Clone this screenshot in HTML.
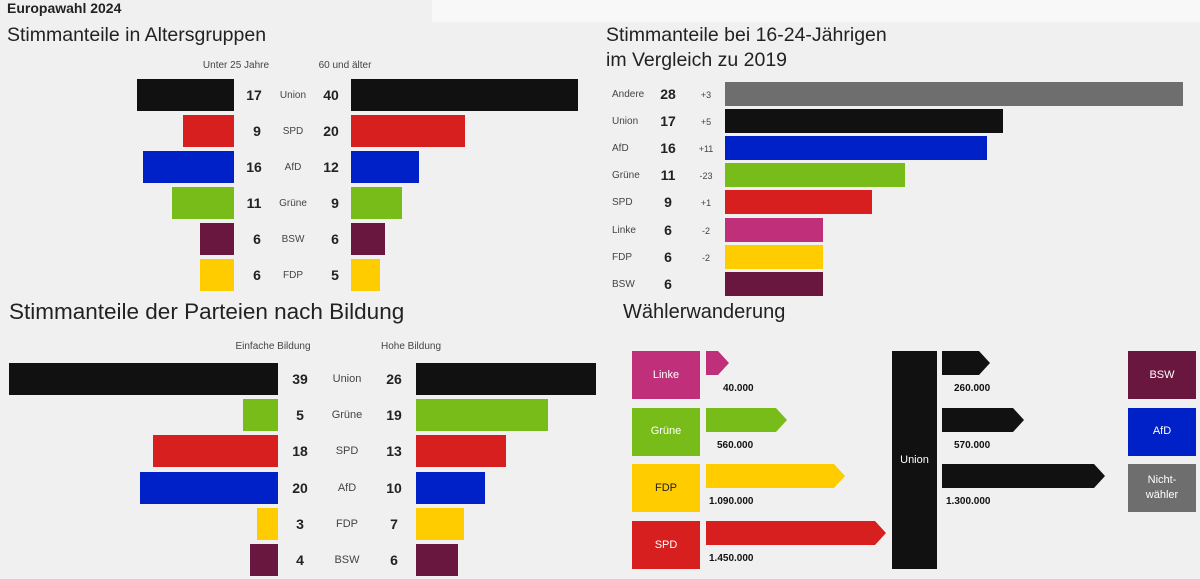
<!DOCTYPE html><html><head><meta charset="utf-8"><style>
body{margin:0;width:1200px;height:579px;background:#f0f0f0;position:relative;overflow:hidden;font-family:"Liberation Sans","DejaVu Sans",sans-serif;color:#222}
div{position:absolute}
.b{position:absolute}
.t{font-size:10px;color:#444;text-align:center;width:60px;margin-left:-30px}
.n{font-size:14px;font-weight:bold;text-align:center;width:40px;margin-left:-20px;color:#222}
.h{font-size:10px;color:#444;text-align:center;width:120px;margin-left:-60px}
.box{color:#fff;font-size:11px;display:flex;align-items:center;justify-content:center;text-align:center;line-height:15px}
.v{font-size:10px;font-weight:bold;color:#111}
</style></head><body>
<div style="left:432px;top:0;width:768px;height:22px;background:#f8f8f8"></div>
<div style="left:7px;top:0;font-size:14px;font-weight:bold">Europawahl 2024</div>
<div style="left:7px;top:24px;font-size:19.5px;color:#222">Stimmanteile in Altersgruppen</div>
<div class="h" style="left:236px;top:60px">Unter 25 Jahre</div>
<div class="h" style="left:345px;top:60px">60 und älter</div>
<div class="b" style="left:137px;top:79px;width:97px;height:32px;background:#111"></div><div class="b" style="left:351px;top:79px;width:227px;height:32px;background:#111"></div>
<div class="n" style="left:254px;top:87px">17</div><div class="t" style="left:293px;top:90px">Union</div><div class="n" style="left:331px;top:87px">40</div>
<div class="b" style="left:183px;top:115px;width:51px;height:32px;background:#d71f1f"></div><div class="b" style="left:351px;top:115px;width:114px;height:32px;background:#d71f1f"></div>
<div class="n" style="left:257px;top:123px">9</div><div class="t" style="left:293px;top:126px">SPD</div><div class="n" style="left:331px;top:123px">20</div>
<div class="b" style="left:143px;top:151px;width:91px;height:32px;background:#0020c8"></div><div class="b" style="left:351px;top:151px;width:68px;height:32px;background:#0020c8"></div>
<div class="n" style="left:254px;top:159px">16</div><div class="t" style="left:293px;top:162px">AfD</div><div class="n" style="left:331px;top:159px">12</div>
<div class="b" style="left:172px;top:187px;width:62px;height:32px;background:#78bc1a"></div><div class="b" style="left:351px;top:187px;width:51px;height:32px;background:#78bc1a"></div>
<div class="n" style="left:254px;top:195px">11</div><div class="t" style="left:293px;top:198px">Grüne</div><div class="n" style="left:335px;top:195px">9</div>
<div class="b" style="left:200px;top:223px;width:34px;height:32px;background:#6a173f"></div><div class="b" style="left:351px;top:223px;width:34px;height:32px;background:#6a173f"></div>
<div class="n" style="left:257px;top:231px">6</div><div class="t" style="left:293px;top:234px">BSW</div><div class="n" style="left:335px;top:231px">6</div>
<div class="b" style="left:200px;top:259px;width:34px;height:32px;background:#ffcc00"></div><div class="b" style="left:351px;top:259px;width:29px;height:32px;background:#ffcc00"></div>
<div class="n" style="left:257px;top:267px">6</div><div class="t" style="left:293px;top:270px">FDP</div><div class="n" style="left:335px;top:267px">5</div>
<div style="left:606px;top:23px;font-size:19.5px;line-height:25px">Stimmanteile bei 16-24-Jährigen<br>im Vergleich zu 2019</div>
<div style="left:9px;top:299px;font-size:22.5px">Stimmanteile der Parteien nach Bildung</div>
<div class="h" style="left:273px;top:341px">Einfache Bildung</div>
<div class="h" style="left:411px;top:341px">Hohe Bildung</div>
<div style="left:623px;top:301px;font-size:20px">Wählerwanderung</div>
<script>
function a(h){document.body.insertAdjacentHTML('beforeend',h)}
var tr=[["Andere",28,"+3",1183,"#6e6e6e"],["Union",17,"+5",1003,"#111"],["AfD",16,"+11",987,"#0020c8"],["Grüne",11,"-23",905,"#78bc1a"],["SPD",9,"+1",872,"#d71f1f"],["Linke",6,"-2",823,"#c0307a"],["FDP",6,"-2",823,"#ffcc00"],["BSW",6,"",823,"#6a173f"]];
tr.forEach(function(r,i){var y=82+i*27.1;
a('<div class="b" style="left:725px;top:'+y+'px;width:'+(r[3]-725)+'px;height:24px;background:'+r[4]+'"></div>');
a('<div style="left:612px;top:'+(y+7)+'px;font-size:10px;color:#444">'+r[0]+'</div>');
a('<div class="n" style="left:668px;top:'+(y+4)+'px">'+r[1]+'</div>');
a('<div style="left:692px;top:'+(y+8)+'px;width:28px;text-align:center;font-size:9px;color:#444">'+r[2]+'</div>');});
var bl=[["Union",39,26,9,596,"#111"],["Grüne",5,19,243,548,"#78bc1a"],["SPD",18,13,153,506,"#d71f1f"],["AfD",20,10,140,485,"#0020c8"],["FDP",3,7,257,464,"#ffcc00"],["BSW",4,6,250,458,"#6a173f"]];
bl.forEach(function(r,i){var y=363+i*36.2;
a('<div class="b" style="left:'+r[3]+'px;top:'+y+'px;width:'+(278-r[3])+'px;height:32px;background:'+r[5]+'"></div>');
a('<div class="b" style="left:416px;top:'+y+'px;width:'+(r[4]-416)+'px;height:32px;background:'+r[5]+'"></div>');
a('<div class="n" style="left:300px;top:'+(y+8)+'px">'+r[1]+'</div>');
a('<div class="t" style="left:347px;top:'+(y+10)+'px;font-size:11px">'+r[0]+'</div>');
a('<div class="n" style="left:394px;top:'+(y+8)+'px">'+r[2]+'</div>');});
function arrow(x1,x2,y,c){var w=x2-x1;a('<svg style="position:absolute;left:'+x1+'px;top:'+y+'px" width="'+w+'" height="24"><polygon points="0,0 '+(w-11)+',0 '+w+',12 '+(w-11)+',24 0,24" fill="'+c+'"/></svg>');}
var L=[["Linke","#c0307a",729,"40.000",723],["Grüne","#78bc1a",787,"560.000",717],["FDP","#ffcc00",845,"1.090.000",709],["SPD","#d71f1f",886,"1.450.000",709]];
L.forEach(function(r,i){var y=351+i*56.7;
a('<div class="box" style="left:632px;top:'+y+'px;width:68px;height:48px;background:'+r[1]+';color:'+(r[0]=="FDP"?"#222":"#fff")+'">'+r[0]+'</div>');
arrow(706,r[2],y,r[1]);
a('<div class="v" style="left:'+r[4]+'px;top:'+(y+32)+'px">'+r[3]+'</div>');});
a('<div class="box" style="left:892px;top:351px;width:45px;height:218px;background:#111">Union</div>');
var R=[[990,"260.000",954,"BSW","#6a173f"],[1024,"570.000",954,"AfD","#0020c8"],[1105,"1.300.000",946,"Nicht-<br>wähler","#6e6e6e"]];
R.forEach(function(r,i){var y=351+i*56.7;
arrow(942,r[0],y,"#111");
a('<div class="v" style="left:'+r[2]+'px;top:'+(y+32)+'px">'+r[1]+'</div>');
a('<div class="box" style="left:1128px;top:'+y+'px;width:68px;height:48px;background:'+r[4]+'">'+r[3]+'</div>');});
</script>
</body></html>
